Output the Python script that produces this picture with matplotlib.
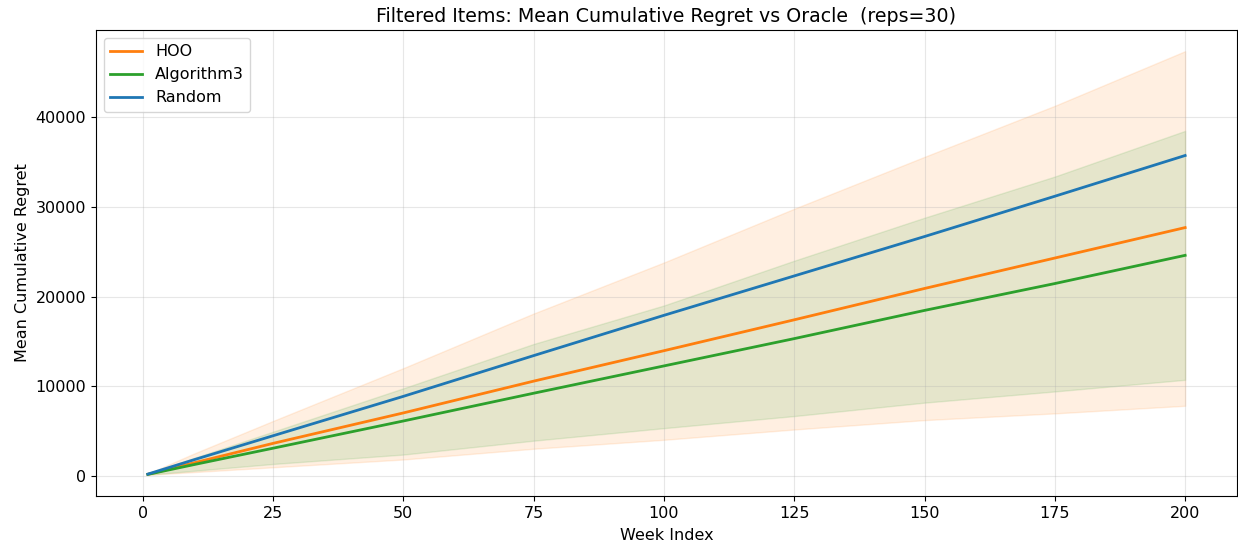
import matplotlib
matplotlib.use("Agg")
import matplotlib.pyplot as plt
import numpy as np

weeks = [1, 10, 25, 50, 75, 100, 125, 150, 175, 200]

random_mean = [170, 1800, 4450, 8850, 13400, 17900, 22300, 26700, 31200, 35750]

hoo_mean = [150, 1450, 3600, 7000, 10550, 13950, 17400, 20900, 24300, 27700]
hoo_lower = [90, 400, 930, 1800, 3000, 4000, 5150, 6200, 6950, 7800]
hoo_upper = [210, 2500, 6100, 12000, 18100, 23800, 29800, 35600, 41300, 47400]

alg3_mean = [140, 1250, 3060, 6100, 9200, 12250, 15300, 18450, 21450, 24600]
alg3_lower = [100, 550, 1300, 2350, 3900, 5300, 6650, 8150, 9400, 10700]
alg3_upper = [180, 2000, 4900, 9750, 14700, 19000, 24000, 28800, 33400, 38500]

fig = plt.figure(figsize=(12.38, 5.44), dpi=100)
ax = fig.add_axes([96 / 1238, 1 - 496 / 544, (1237 - 96) / 1238, (496 - 30) / 544])

ax.fill_between(weeks, hoo_lower, hoo_upper, color="#ff7f0e", alpha=0.12)
ax.fill_between(weeks, alg3_lower, alg3_upper, color="#2ca02c", alpha=0.12)

ax.plot(weeks, hoo_mean, color="#ff7f0e", linewidth=2, label="HOO")
ax.plot(weeks, alg3_mean, color="#2ca02c", linewidth=2, label="Algorithm3")
ax.plot(weeks, random_mean, color="#1f77b4", linewidth=2, label="Random")

ax.set_title("Filtered Items: Mean Cumulative Regret vs Oracle  (reps=30)", fontsize=13.7)
ax.set_xlabel("Week Index", fontsize=11.5, labelpad=5)
ax.set_ylabel("Mean Cumulative Regret", fontsize=11.5)
ax.tick_params(labelsize=11.5)
ax.grid(True, alpha=0.3)
ax.legend(loc="upper left", fontsize=11.5)

fig.savefig("out.png", dpi=100)
